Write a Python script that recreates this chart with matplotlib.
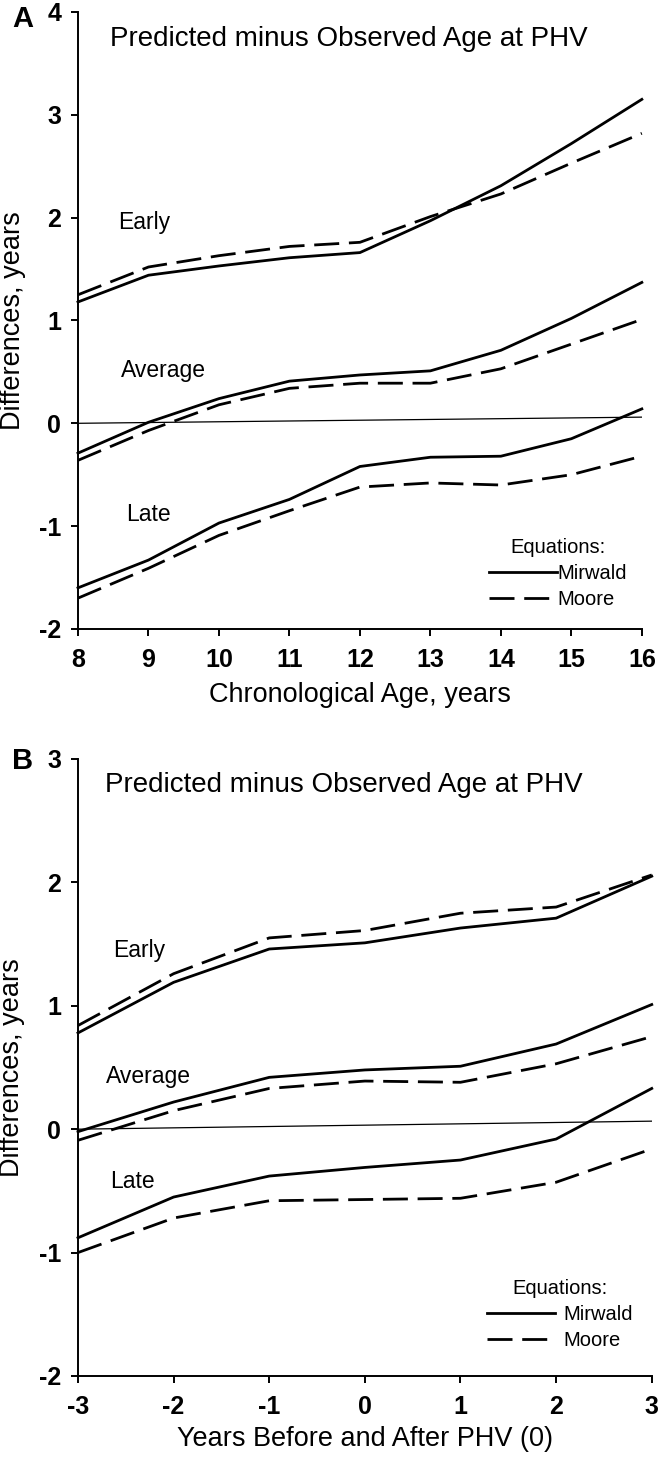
import numpy as np
import matplotlib
matplotlib.use("Agg")
import matplotlib.pyplot as plt

plt.rcParams['font.family'] = ['Liberation Sans', 'DejaVu Sans']

# ---- panel A: by chronological age
age = [8, 9, 10, 11, 12, 13, 14, 15, 16]
a_early_mirwald = [1.18, 1.44, 1.53, 1.61, 1.66, 1.97, 2.31, 2.72, 3.15]
a_early_moore = [1.25, 1.52, 1.63, 1.72, 1.76, 2.01, 2.23, 2.53, 2.82]
a_avg_mirwald = [-0.29, 0.01, 0.24, 0.41, 0.47, 0.51, 0.71, 1.02, 1.37]
a_avg_moore = [-0.36, -0.07, 0.18, 0.34, 0.39, 0.39, 0.53, 0.77, 1.01]
a_late_mirwald = [-1.60, -1.33, -0.97, -0.74, -0.42, -0.33, -0.32, -0.15, 0.14]
a_late_moore = [-1.70, -1.41, -1.09, -0.85, -0.62, -0.58, -0.60, -0.50, -0.32]
a_ref_x = [8, 16]
a_ref_y = [0.0, 0.06]

# ---- panel B: years from PHV
phv = [-3, -2, -1, 0, 1, 2, 3]
b_early_mirwald = [0.78, 1.19, 1.46, 1.51, 1.63, 1.71, 2.05]
b_early_moore = [0.84, 1.26, 1.55, 1.61, 1.75, 1.80, 2.06]
b_avg_mirwald = [-0.02, 0.22, 0.42, 0.48, 0.51, 0.69, 1.01]
b_avg_moore = [-0.09, 0.15, 0.33, 0.39, 0.38, 0.53, 0.75]
b_late_mirwald = [-0.88, -0.55, -0.38, -0.31, -0.25, -0.08, 0.33]
b_late_moore = [-1.00, -0.72, -0.58, -0.57, -0.56, -0.43, -0.16]
b_ref_x = [-3, 3]
b_ref_y = [0.0, 0.065]

title = "Predicted minus Observed Age at PHV"
groups = ["Early", "Average", "Late"]

DASH = (0, (9, 3.5))
LW = 2.0

fig = plt.figure(figsize=(6.61, 14.59), dpi=100)
axA = fig.add_axes([0.118, 0.5689, 0.853, 0.4229])
axB = fig.add_axes([0.118, 0.0569, 0.868, 0.4229])


def panel(ax, x, series, ref_x, ref_y, ylim, xlabel, xpad, text_pos, title_pos,
          leg_anchor, textpad):
    ax.plot(ref_x, ref_y, color='black', lw=0.9)
    handles = None
    for mir, moo in series:
        h1, = ax.plot(x, mir, color='black', lw=LW, clip_on=False)
        h2, = ax.plot(x, moo, color='black', lw=LW, linestyle=DASH, clip_on=False)
        if handles is None:
            handles = [h1, h2]
    for name, (tx, ty) in zip(groups, text_pos):
        ax.text(tx, ty, name, fontsize=16.5, ha='left', va='center')
    ax.text(title_pos[0], title_pos[1], title, fontsize=20, ha='left', va='center')

    ax.set_xlim(x[0], x[-1])
    ax.set_ylim(*ylim)
    ax.set_xticks(x)
    ax.set_xticklabels([str(v) for v in x])
    yt = list(range(ylim[0], ylim[1] + 1))
    ax.set_yticks(yt)
    ax.set_yticklabels([str(v) for v in yt])
    for s in ['top', 'right']:
        ax.spines[s].set_visible(False)
    for s in ['left', 'bottom']:
        ax.spines[s].set_linewidth(1.4)
    ax.tick_params(direction='out', length=5, width=1.4, labelsize=18)
    ax.tick_params(axis='x', pad=9)
    ax.tick_params(axis='y', pad=7)
    for lab in ax.get_xticklabels() + ax.get_yticklabels():
        lab.set_fontweight('bold')

    ax.set_ylabel("Differences, years", fontsize=19.5)
    ax.yaxis.set_label_coords(-0.092, 0.5)
    ax.set_xlabel(xlabel, fontsize=19.5, labelpad=xpad)

    ax.legend(handles, ['Mirwald', 'Moore'], title='Equations:', frameon=False,
              loc='center', bbox_to_anchor=leg_anchor, fontsize=14.5,
              title_fontsize=14.5, handlelength=3.4, handletextpad=textpad,
              labelspacing=0.35, borderpad=0, borderaxespad=0)


panel(axA, age,
      [(a_early_mirwald, a_early_moore), (a_avg_mirwald, a_avg_moore),
       (a_late_mirwald, a_late_moore)],
      a_ref_x, a_ref_y, (-2, 4), "Chronological Age, years", 7,
      [(8.57, 1.95), (8.61, 0.51), (8.68, -0.89)], (8.45, 3.74),
      (0.851, 0.09), 0.0)

panel(axB, phv,
      [(b_early_mirwald, b_early_moore), (b_avg_mirwald, b_avg_moore),
       (b_late_mirwald, b_late_moore)],
      b_ref_x, b_ref_y, (-2, 3), "Years Before and After PHV (0)", 5,
      [(-2.63, 1.45), (-2.71, 0.43), (-2.66, -0.42)], (-2.72, 2.79),
      (0.84, 0.10), 0.4)

fig.text(23 / 661, 1 - 19 / 1459, "A", fontsize=21, fontweight='bold', ha='center', va='center')
fig.text(23 / 661, 1 - 761 / 1459, "B", fontsize=21, fontweight='bold', ha='center', va='center')

fig.savefig("out.png", dpi=100)
